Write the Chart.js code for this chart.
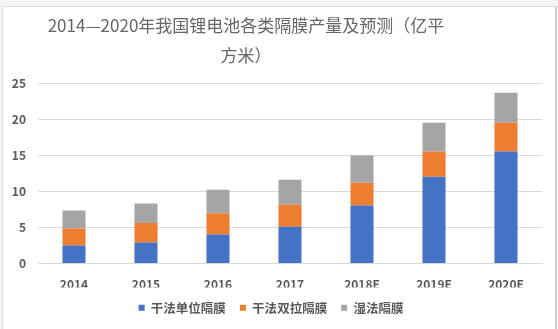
<!DOCTYPE html>
<html>
<head>
<meta charset="utf-8">
<script src="https://cdn.jsdelivr.net/npm/chart.js@4.4.0/dist/chart.umd.min.js"></script>
<style>
  html, body { margin: 0; padding: 0; background: #f5f5f5; }
  #frame { position: absolute; left: 2px; top: 6px; width: 552px; height: 340px;
           background: #fff; border: 1px solid #d9d9d9; border-right: 2px solid #d0d0d0; }
  #wrap { position: absolute; left: 0; top: 0; width: 558px; height: 329px; }
  #title { position: absolute; left: 26px; width: 440px; top: 10px; text-align: center;
           font-family: "Noto Sans CJK SC", sans-serif; font-size: 17px; line-height: 30px;
           color: #666; }
</style>
</head>
<body>
<div id="frame"></div>
<div id="wrap"><canvas id="chart" width="558" height="329"></canvas></div>
<div id="title">2014—2020年我国锂电池各类隔膜产量及预测（亿平<br>方米）</div>
<script>
var years = ['2014', '2015', '2016', '2017', '2018E', '2019E', '2020E'];
var dryUni = [2.5, 2.9, 4.0, 5.1, 8.05, 12.0, 15.5];
var dryBi = [2.35, 2.7, 2.95, 3.05, 3.15, 3.5, 4.0];
var wet = [2.5, 2.7, 3.25, 3.45, 3.75, 4.0, 4.15];
var seriesNames = ['干法单位隔膜', '干法双拉隔膜', '湿法隔膜'];

var textColor = '#595959';
var fontFam = '"Noto Sans CJK SC", "DejaVu Sans", sans-serif';

var ctx = document.getElementById('chart').getContext('2d');
var chart = new Chart(ctx, {
  type: 'bar',
  data: {
    labels: years,
    datasets: [
      { label: seriesNames[0], data: dryUni, backgroundColor: '#4472c4' },
      { label: seriesNames[1], data: dryBi, backgroundColor: '#ed7d31' },
      { label: seriesNames[2], data: wet, backgroundColor: '#a5a5a5' }
    ]
  },
  options: {
    responsive: false,
    animation: false,
    layout: { padding: { top: 83, right: 16, left: 0, bottom: 5 } },
    datasets: { bar: { categoryPercentage: 1, barPercentage: 0.32 } },
    plugins: {
      title: { display: false },
      tooltip: { enabled: false },
      legend: {
        position: 'bottom',
        labels: {
          color: textColor,
          font: { family: fontFam, size: 12.5, weight: 'bold' },
          boxWidth: 6, boxHeight: 6, padding: 14
        }
      }
    },
    scales: {
      x: {
        stacked: true,
        grid: { display: false },
        border: { color: '#d9d9d9' },
        ticks: { color: textColor, font: { family: fontFam, size: 12, weight: 'bold' }, padding: 6 },
        afterFit: function (s) { s.height = 24; }
      },
      y: {
        stacked: true,
        min: 0, max: 25,
        ticks: { stepSize: 5, color: textColor, font: { family: fontFam, size: 12, weight: 'bold' }, padding: 12 },
        grid: { color: '#d9d9d9', drawTicks: false },
        border: { display: false },
        afterFit: function (s) { s.width = 38; }
      }
    }
  }
});
</script>
</body>
</html>
